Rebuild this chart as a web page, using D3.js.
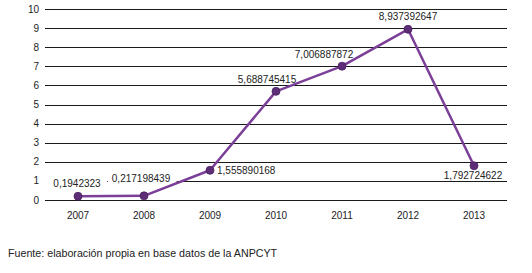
<!DOCTYPE html>
<html>
<head>
<meta charset="utf-8">
<script src="https://cdn.jsdelivr.net/npm/d3@7"></script>
<style>
    body { margin: 0; background: #fff; }
    svg { display: block; font-family: "Liberation Sans", Arial, sans-serif; }
    .grid line { stroke: #1a1a1a; stroke-width: 1; }
    .tick-label, .value-label { fill: #222; font-size: 10px; }
    .source { fill: #222; font-size: 10.7px; }
</style>
</head>
<body>
<svg id="chart" width="532" height="273"></svg>
<script>
// values
const years = ["2007", "2008", "2009", "2010", "2011", "2012", "2013"];
const values = [0.1942323, 0.217198439, 1.555890168, 5.688745415, 7.006887872, 8.937392647, 1.792724622];
const valueLabels = ["0,1942323", "0,217198439", "1,555890168", "5,688745415", "7,006887872", "8,937392647", "1,792724622"];
const yTicks = [0, 1, 2, 3, 4, 5, 6, 7, 8, 9, 10];
const sourceText = "Fuente: elaboración propia en base datos de la ANPCYT";

// label placement relative to its point: [dx, dy, anchor, white box padding left/right]
const labelOffsets = [
    [-1, -9, "middle", [10, 6]],
    [-3, -14, "middle", [4, 6]],
    [7, 4, "start", null],
    [-9, -8, "middle", null],
    [-18, -8, "middle", null],
    [0, -9, "middle", null],
    [-1, 13, "middle", null]
];

const LINE_COLOR = "#7b3f98";
const DOT_COLOR = "#5e2d78";

const svg = d3.select("#chart");
const plot = { left: 45, right: 507, top: 9, bottom: 200 };

const x = d3.scalePoint()
    .domain(years)
    .range([plot.left, plot.right])
    .padding(0.5);

const y = d3.scaleLinear()
    .domain([0, 10])
    .range([plot.bottom, plot.top]);

// horizontal grid lines
svg.append("g")
    .attr("class", "grid")
    .selectAll("line")
    .data(yTicks)
    .enter().append("line")
        .attr("x1", plot.left)
        .attr("x2", plot.right)
        .attr("y1", (d) => Math.round(y(d)) + 0.5)
        .attr("y2", (d) => Math.round(y(d)) + 0.5);

// y tick labels
svg.append("g")
    .selectAll("text")
    .data(yTicks)
    .enter().append("text")
        .attr("class", "tick-label")
        .attr("x", plot.left - 6)
        .attr("y", (d) => y(d))
        .attr("dy", "0.35em")
        .attr("text-anchor", "end")
        .text((d) => d);

// x labels
svg.append("g")
    .selectAll("text")
    .data(years)
    .enter().append("text")
        .attr("class", "tick-label")
        .attr("x", (d) => x(d))
        .attr("y", plot.bottom + 19)
        .attr("text-anchor", "middle")
        .text((d) => d);

const pts = years.map((yr, i) => ({
    year: yr, value: values[i], label: valueLabels[i], off: labelOffsets[i] }));

// value labels (drawn before the line so the line sits on top of the boxes)
let labels = svg.append("g")
    .selectAll("g")
    .data(pts)
    .enter().append("g");

labels.append("text")
    .attr("class", "value-label")
    .attr("x", (d) => x(d.year) + d.off[0])
    .attr("y", (d) => y(d.value) + d.off[1])
    .attr("text-anchor", (d) => d.off[2])
    .text((d) => d.label);

labels.filter((d) => d.off[3] !== null).each(function(d) {
    let g = d3.select(this),
        b = g.select("text").node().getBBox(),
        pad = d.off[3];
    g.insert("rect", "text")
        .attr("x", b.x - pad[0])
        .attr("y", b.y - 1)
        .attr("width", b.width + pad[0] + pad[1])
        .attr("height", b.height + 2)
        .attr("fill", "#fff");
});

svg.append("path")
    .datum(pts)
    .attr("fill", "none")
    .attr("stroke", LINE_COLOR)
    .attr("stroke-width", 2.5)
    .attr("stroke-linejoin", "round")
    .attr("d", d3.line().x((d) => x(d.year)).y((d) => y(d.value)));

svg.append("g")
    .selectAll("circle")
    .data(pts)
    .enter().append("circle")
        .attr("cx", (d) => x(d.year))
        .attr("cy", (d) => y(d.value))
        .attr("r", 4)
        .attr("fill", DOT_COLOR)
        .attr("stroke", "#4a2060")
        .attr("stroke-width", 0.8);

svg.append("text")
    .attr("class", "source")
    .attr("x", 8)
    .attr("y", 257)
    .text(sourceText);
</script>
</body>
</html>
